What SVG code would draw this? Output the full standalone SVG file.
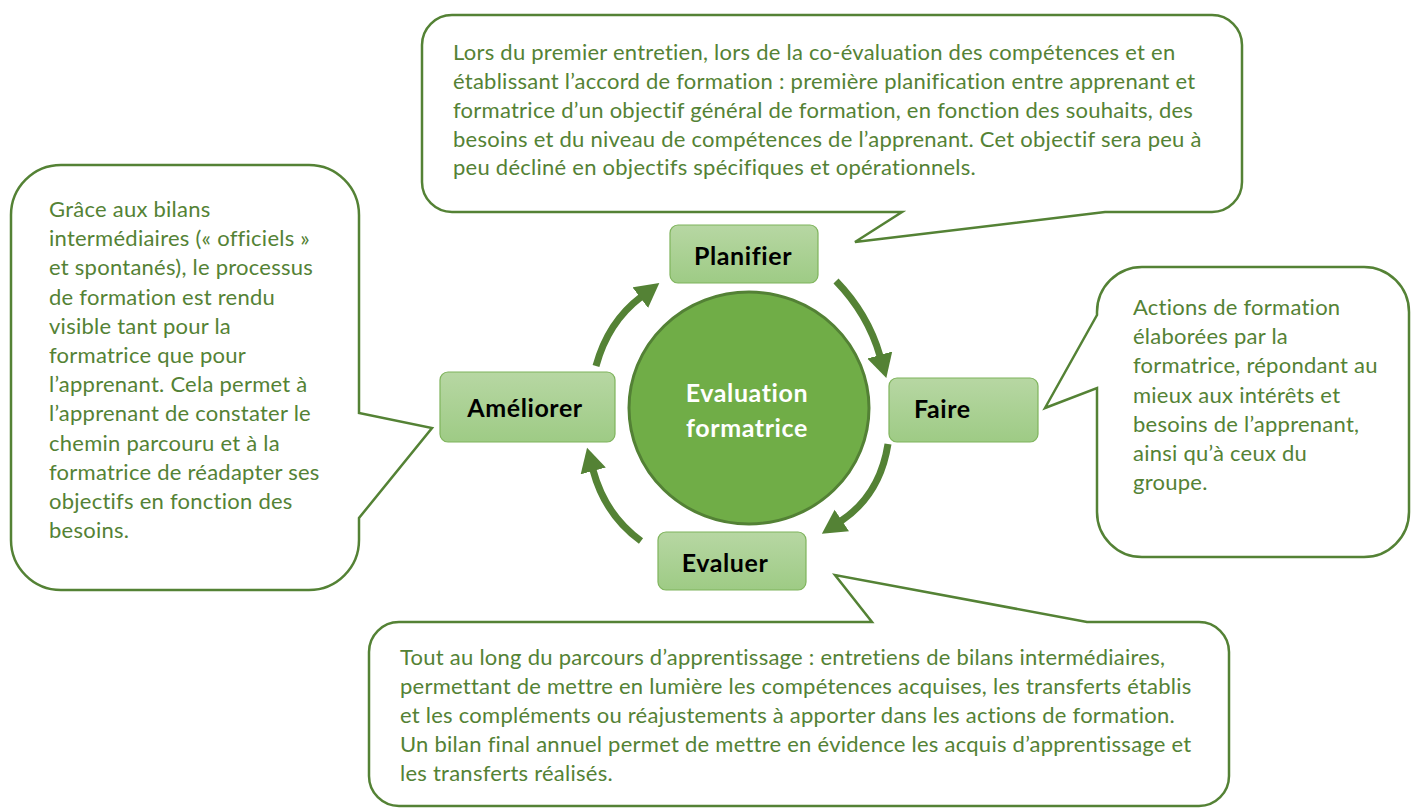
<svg xmlns="http://www.w3.org/2000/svg" width="1412" height="808" viewBox="0 0 1412 808">
<defs>
<linearGradient id="boxGrad" x1="0" y1="0" x2="0" y2="1">
<stop offset="0" stop-color="#b7d7a3"/>
<stop offset="1" stop-color="#9ecb85"/>
</linearGradient>
<marker id="head" markerUnits="userSpaceOnUse" markerWidth="30" markerHeight="30" refX="1" refY="13" orient="auto">
<path d="M0,0 L24,13 L0,26 Z" fill="#548235"/>
</marker>
<style>
.callout{fill:#ffffff;stroke:#548235;stroke-width:2.5;stroke-linejoin:miter}
.ctext{font-family:Lato,"Open Sans",sans-serif;font-size:22px;letter-spacing:0.25px;fill:#548235}
.box{fill:url(#boxGrad);stroke:#7fb45c;stroke-width:1.2}
.btext{font-family:Lato,"Open Sans",sans-serif;font-size:25px;letter-spacing:0.6px;font-weight:bold;fill:#000000}
.wtext{font-family:Lato,"Open Sans",sans-serif;font-size:25px;letter-spacing:0.6px;font-weight:bold;fill:#ffffff}
.arc{fill:none;stroke:#548235;stroke-width:7;marker-end:url(#head)}
</style>
</defs>
<rect width="1412" height="808" fill="#ffffff"/>

<g id="callout-planifier">
<path class="callout" d="M452 15 H1212 A30 30 0 0 1 1242 45 V182 A30 30 0 0 1 1212 212 H1105 L855 242 L902 212 H452 A30 30 0 0 1 422 182 V45 A30 30 0 0 1 452 15 Z"/>
<text class="ctext" x="453" y="60">Lors du premier entretien, lors de la co-évaluation des compétences et en</text>
<text class="ctext" x="453" y="89">établissant l’accord de formation : première planification entre apprenant et</text>
<text class="ctext" x="453" y="118">formatrice d’un objectif général de formation, en fonction des souhaits, des</text>
<text class="ctext" x="453" y="147">besoins et du niveau de compétences de l’apprenant. Cet objectif sera peu à</text>
<text class="ctext" x="453" y="175">peu décliné en objectifs spécifiques et opérationnels.</text>
</g>

<g id="callout-ameliorer">
<path class="callout" d="M61 165 H309 A50 50 0 0 1 359 215 V413 L432 428 L359 518 V540 A50 50 0 0 1 309 590 H61 A50 50 0 0 1 11 540 V215 A50 50 0 0 1 61 165 Z"/>
<text class="ctext" x="49" y="217">Grâce aux bilans</text>
<text class="ctext" x="49" y="246">intermédiaires (« officiels »</text>
<text class="ctext" x="49" y="275">et spontanés), le processus</text>
<text class="ctext" x="49" y="305">de formation est rendu</text>
<text class="ctext" x="49" y="334">visible tant pour la</text>
<text class="ctext" x="49" y="363">formatrice que pour</text>
<text class="ctext" x="49" y="392">l’apprenant. Cela permet à</text>
<text class="ctext" x="49" y="421">l’apprenant de constater le</text>
<text class="ctext" x="49" y="451">chemin parcouru et à la</text>
<text class="ctext" x="49" y="480">formatrice de réadapter ses</text>
<text class="ctext" x="49" y="509">objectifs en fonction des</text>
<text class="ctext" x="49" y="538">besoins.</text>
</g>

<g id="callout-faire">
<path class="callout" d="M1142 267 H1364 A45 45 0 0 1 1409 312 V512 A45 45 0 0 1 1364 557 H1142 A45 45 0 0 1 1097 512 V388 L1045 408 L1097 315 V312 A45 45 0 0 1 1142 267 Z"/>
<text class="ctext" x="1133" y="315">Actions de formation</text>
<text class="ctext" x="1133" y="344">élaborées par la</text>
<text class="ctext" x="1133" y="373">formatrice, répondant au</text>
<text class="ctext" x="1133" y="403">mieux aux intérêts et</text>
<text class="ctext" x="1133" y="432">besoins de l’apprenant,</text>
<text class="ctext" x="1133" y="461">ainsi qu’à ceux du</text>
<text class="ctext" x="1133" y="490">groupe.</text>
</g>

<g id="callout-evaluer">
<path class="callout" d="M399 622 H872 L835 575 L1087 622 H1199 A30 30 0 0 1 1229 652 V776 A30 30 0 0 1 1199 806 H399 A30 30 0 0 1 369 776 V652 A30 30 0 0 1 399 622 Z"/>
<text class="ctext" x="400" y="665">Tout au long du parcours d’apprentissage : entretiens de bilans intermédiaires,</text>
<text class="ctext" x="400" y="694">permettant de mettre en lumière les compétences acquises, les transferts établis</text>
<text class="ctext" x="400" y="723">et les compléments ou réajustements à apporter dans les actions de formation.</text>
<text class="ctext" x="400" y="752">Un bilan final annuel permet de mettre en évidence les acquis d’apprentissage et</text>
<text class="ctext" x="400" y="781">les transferts réalisés.</text>
</g>

<g id="connectors">
<path class="arc" d="M836 281 Q868 314 880 356"/>
<path class="arc" d="M888 444 Q880 495 841 521"/>
<path class="arc" d="M641 541 Q605 515 593 470"/>
<path class="arc" d="M596 366 Q608 322 641 297"/>
</g>

<g id="node-center">
<ellipse cx="749" cy="408" rx="120" ry="116" fill="#70ad47" stroke="#538135" stroke-width="3"/>
<text class="wtext" x="747" y="402" text-anchor="middle">Evaluation</text>
<text class="wtext" x="747" y="437" text-anchor="middle">formatrice</text>
</g>

<g id="node-planifier">
<rect class="box" x="670" y="225" width="148" height="58" rx="8"/>
<text class="btext" x="743" y="265" text-anchor="middle">Planifier</text>
</g>

<g id="node-faire">
<rect class="box" x="889" y="378" width="149" height="64" rx="8"/>
<text class="btext" x="914" y="418">Faire</text>
</g>

<g id="node-ameliorer">
<rect class="box" x="440" y="372" width="175" height="70" rx="8"/>
<text class="btext" x="525" y="417" text-anchor="middle">Améliorer</text>
</g>

<g id="node-evaluer">
<rect class="box" x="658" y="532" width="148" height="58" rx="8"/>
<text class="btext" x="725" y="572" text-anchor="middle">Evaluer</text>
</g>
</svg>
